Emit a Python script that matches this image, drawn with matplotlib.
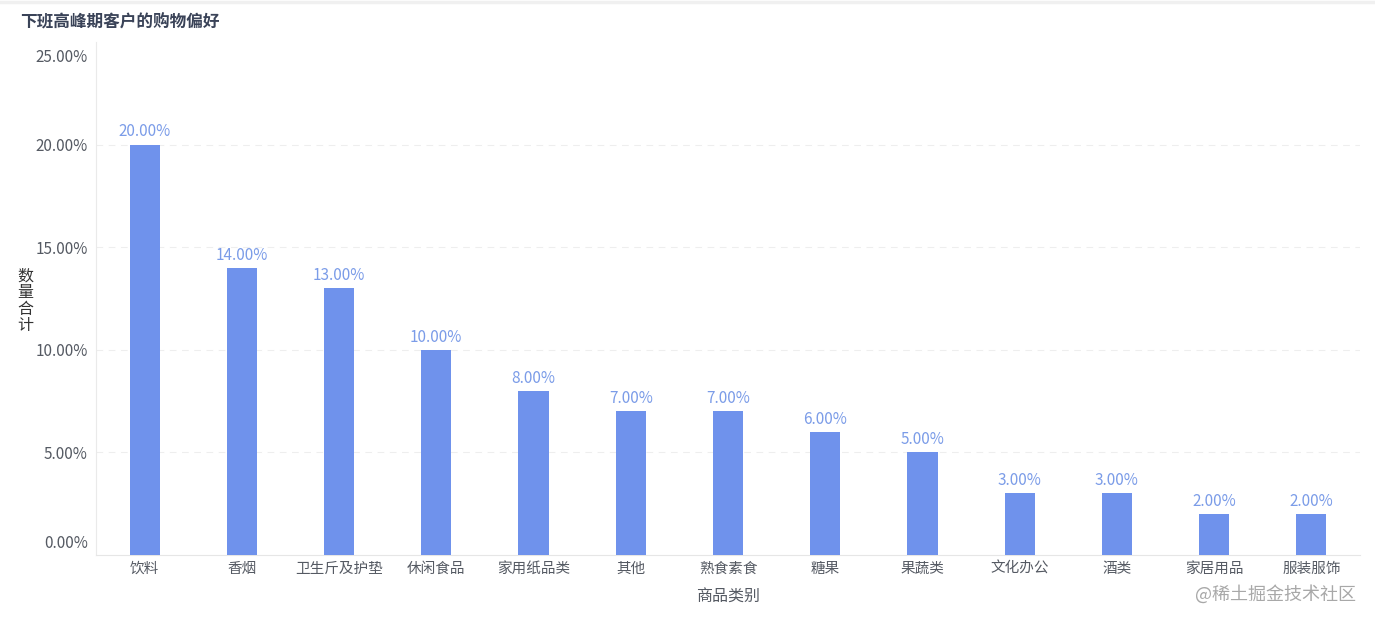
import matplotlib.pyplot as plt
import matplotlib.transforms as mtransforms
import numpy as np

plt.rcParams['font.family'] = ['Noto Sans CJK SC', 'DejaVu Sans']

# data
categories = ['饮料', '香烟', '卫生斤及护垫', '休闲食品', '家用纸品类', '其他', '熟食素食',
              '糖果', '果蔬类', '文化办公', '酒类', '家居用品', '服装服饰']
shares = [20, 14, 13, 10, 8, 7, 7, 6, 5, 3, 3, 2, 2]
yticks = [0, 5, 10, 15, 20, 25]

bar_color = '#6F92EC'
label_color = '#7B9CE8'
text_color = '#555A63'

fig = plt.figure(figsize=(13.75, 6.22), dpi=100)
W, H = 1375, 622
left, right, top, bottom = 96, 1360, 42, 555
ax = fig.add_axes([left / W, 1 - bottom / H, (right - left) / W, (bottom - top) / H])

x = np.arange(len(categories))
ax.bar(x, shares, width=0.31, color=bar_color, zorder=3)
for xi, v in zip(x, shares):
    ax.text(xi, v + 0.2, f'{v:.2f}%', ha='center', va='bottom',
            fontsize=11, color=label_color, zorder=4)

ax.set_xlim(-0.5, len(categories) - 0.5)
ax.set_ylim(0, 25)
ax.set_xticks(x)
ax.set_xticklabels(categories, fontsize=10.5, color=text_color)
ax.set_yticks(yticks)
ax.set_yticklabels([f'{t:.2f}%' for t in yticks], fontsize=11, color=text_color)
ax.tick_params(axis='both', length=0)
ax.tick_params(axis='x', pad=5)
ax.tick_params(axis='y', pad=6)

# end labels pulled inside the axis range, as in the original
ylabels = ax.get_yticklabels()
shift = 0.14  # inches
ylabels[0].set_transform(ylabels[0].get_transform()
                         + mtransforms.ScaledTranslation(0, shift, fig.dpi_scale_trans))
ylabels[-1].set_transform(ylabels[-1].get_transform()
                          + mtransforms.ScaledTranslation(0, -shift, fig.dpi_scale_trans))

for yv in yticks[1:-1]:
    ax.axhline(yv, color='#EEEEEE', lw=0.8, ls=(0, (6, 5)), zorder=1)

for s in ['top', 'right']:
    ax.spines[s].set_visible(False)
ax.spines['left'].set_color('#EAEAEA')
ax.spines['bottom'].set_color('#E6E6E6')
ax.spines['left'].set_linewidth(0.8)
ax.spines['bottom'].set_linewidth(0.8)

ax.set_xlabel('商品类别', fontsize=11.5, color=text_color, labelpad=9)
fig.text(25 / W, 1 - 301 / H, '数\n量\n合\n计', fontsize=11.5, color='#333333',
         ha='center', va='center', linespacing=0.95)

fig.text(20 / W, 1 - 22 / H, '下班高峰期客户的购物偏好', fontsize=12, fontweight='bold',
         color='#3A4358', ha='left', va='center')
fig.text(1356 / W, 1 - 594 / H, '@稀土掘金技术社区', fontsize=13, color='#A8A8A8',
         ha='right', va='center')

# thin grey strip along the top edge
fig.add_artist(plt.Line2D([0, 1], [1 - 1.5 / H, 1 - 1.5 / H], color='#F0F0F0', lw=2.5))

fig.savefig('out.png', dpi=100, facecolor='white')
